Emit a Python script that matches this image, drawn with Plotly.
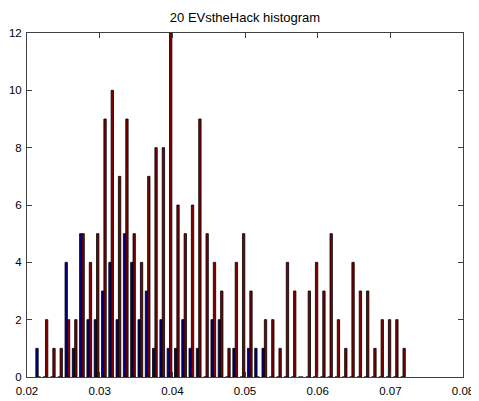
import plotly.graph_objects as go

bin_centers = [0.02154, 0.02254, 0.02355, 0.02455, 0.02556, 0.02656, 0.02756, 0.02857,
               0.02957, 0.03058, 0.03158, 0.03258, 0.03359, 0.03459, 0.03560, 0.03660,
               0.03760, 0.03861, 0.03961, 0.04062, 0.04162, 0.04262, 0.04363, 0.04463,
               0.04564, 0.04664, 0.04764, 0.04865, 0.04965, 0.05066, 0.05166, 0.05266,
               0.05367, 0.05467, 0.05568, 0.05668, 0.05768, 0.05869, 0.05969, 0.06070,
               0.06170, 0.06270, 0.06371, 0.06471, 0.06572, 0.06672, 0.06772, 0.06873,
               0.06973, 0.07074, 0.07174]

blue_counts = [1, 0, 0, 0, 4, 1, 5, 2, 2, 3, 4, 2, 5, 4, 2, 3, 1, 2, 1, 1,
               2, 1, 1, 0, 2, 2, 0, 1, 0, 1, 1, 1, 0, 0, 0, 0, 0, 0, 0, 0,
               0, 0, 0, 0, 0, 0, 0, 0, 0, 0, 0]

red_counts = [0, 2, 1, 1, 2, 2, 5, 4, 5, 9, 10, 7, 9, 5, 4, 7, 8, 8, 12, 6,
              5, 6, 9, 5, 4, 3, 1, 4, 5, 3, 0, 2, 2, 1, 4, 3, 0, 3, 4, 3,
              5, 2, 1, 4, 3, 3, 1, 2, 2, 2, 1]

x_ticks = [0.02, 0.03, 0.04, 0.05, 0.06, 0.07, 0.08]
x_tick_labels = ["0.02", "0.03", "0.04", "0.05", "0.06", "0.07", "0.08"]
y_ticks = [0, 2, 4, 6, 8, 10, 12]

title_text = "20 EVstheHack histogram"

fig = go.Figure()
fig.add_trace(go.Bar(x=bin_centers, y=blue_counts, name="A",
                     marker=dict(color="#000088", line=dict(color="#000000", width=0.8))))
fig.add_trace(go.Bar(x=bin_centers, y=red_counts, name="B",
                     marker=dict(color="#800000", line=dict(color="#000000", width=0.8))))

axis_common = dict(showline=True, linecolor="#404040", linewidth=1, mirror="ticks",
                   ticks="inside", ticklen=5, tickcolor="#404040", showgrid=False,
                   zeroline=False, automargin=False,
                   tickfont=dict(family="Liberation Sans, Arial, sans-serif", size=11.5, color="#000000"))

# the page body adds an 8px offset, so the figure is sized to fit inside it
fig.update_layout(
    width=471, height=393,
    margin=dict(l=19, r=16, t=25, b=24, autoexpand=False),
    paper_bgcolor="white", plot_bgcolor="white",
    barmode="group", bargap=0.35, bargroupgap=0,
    showlegend=False,
    title=dict(text=title_text, x=0.5, xref="paper", xanchor="center",
               y=0.975, yref="container", yanchor="middle",
               font=dict(family="Liberation Sans, Arial, sans-serif", size=13, color="#000000")),
    xaxis=dict(range=[0.02, 0.08], tickvals=x_ticks, ticktext=x_tick_labels, ticklabelstandoff=3,
               **axis_common),
    yaxis=dict(range=[0, 12], tickvals=y_ticks, ticklabelstandoff=2, **axis_common),
)

fig.write_html("out.html")
